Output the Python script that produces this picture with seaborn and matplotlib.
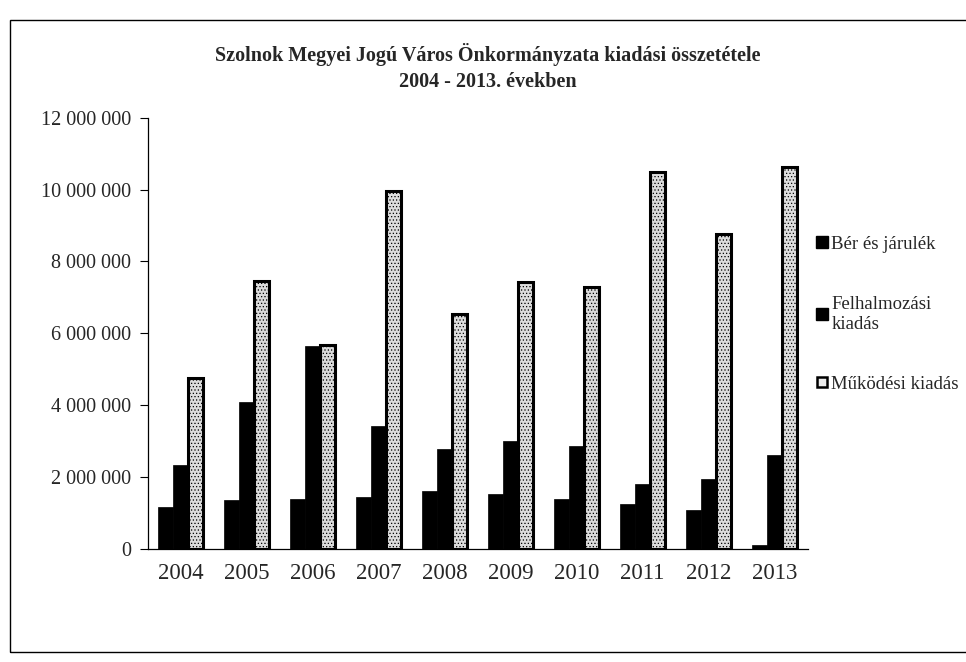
import numpy as np
import pandas as pd
import matplotlib
matplotlib.use('Agg')
import matplotlib.pyplot as plt
import seaborn as sns
from matplotlib.ticker import FuncFormatter
from matplotlib.lines import Line2D
from matplotlib.patches import Rectangle

# adatok, leolvasva a diagramról
years = ['2004', '2005', '2006', '2007', '2008', '2009', '2010', '2011', '2012', '2013']
ber = [1150000, 1370000, 1400000, 1450000, 1600000, 1530000, 1400000, 1250000, 1080000, 100000]
felh = [2320000, 4100000, 5640000, 3410000, 2770000, 3000000, 2850000, 1800000, 1930000, 2600000]
muk = [4750000, 7460000, 5670000, 9970000, 6540000, 7430000, 7300000, 10500000, 8770000, 10640000]
series = ['Bér és járulék', 'Felhalmozási kiadás', 'Működési kiadás']
legend_labels = ['Bér és járulék', 'Felhalmozási\nkiadás', 'Működési kiadás']

df = pd.DataFrame({
    'ev': years * 3,
    'sorozat': [series[0]] * 10 + [series[1]] * 10 + [series[2]] * 10,
    'ertek': ber + felh + muk,
})

sns.set_style('white')
plt.rcParams['font.family'] = ['Liberation Serif', 'DejaVu Serif']
plt.rcParams['hatch.linewidth'] = 0.5

fig = plt.figure(figsize=(9.66, 6.62), dpi=100)
ax = fig.add_axes([0.153, 0.171, 0.683, 0.651])

sns.barplot(data=df, x='ev', y='ertek', hue='sorozat', order=years, hue_order=series,
            palette=['black', 'black', '#dcdcdc'], width=0.68, saturation=1,
            errorbar=None, legend=False, ax=ax)

for i, cont in enumerate(ax.containers):
    for p in cont:
        if i == 2:
            p.set_facecolor('#dcdcdc')
            p.set_edgecolor('black')
            p.set_linewidth(2.2)
            p.set_hatch('.....')
        else:
            p.set_edgecolor('black')
            p.set_linewidth(0.5)

ax.set_ylim(0, 12000000)
ax.set_yticks(np.arange(0, 12000001, 2000000))
ax.yaxis.set_major_formatter(FuncFormatter(lambda v, pos: f"{int(v):,}".replace(',', ' ')))
ax.set_xlim(-0.5, 9.5)
ax.set_xticks(np.arange(-0.5, 10, 1), minor=True)
ax.tick_params(axis='x', which='major', length=0, pad=10, labelsize=16.5)
ax.tick_params(axis='x', which='minor', length=5, width=0.8, direction='out', color='black')
ax.tick_params(axis='y', length=6, width=0.8, direction='out', color='black', pad=6, labelsize=14.5,
               left=True)
ax.set_xlabel('')
ax.set_ylabel('')
for s in ['top', 'right']:
    ax.spines[s].set_visible(False)
for s in ['left', 'bottom']:
    ax.spines[s].set_color('black')
    ax.spines[s].set_linewidth(0.9)

fig.text(0.505, 0.918, 'Szolnok Megyei Jogú Város Önkormányzata kiadási összetétele',
         ha='center', va='center', fontsize=14.5, fontweight='bold')
fig.text(0.505, 0.876, '2004 - 2013. években', ha='center', va='center',
         fontsize=14.5, fontweight='bold')

handles = [
    Line2D([], [], marker='s', linestyle='none', markerfacecolor='black', markeredgecolor='black', markersize=8),
    Line2D([], [], marker='s', linestyle='none', markerfacecolor='black', markeredgecolor='black', markersize=8),
    Line2D([], [], marker='s', linestyle='none', markerfacecolor='#ececec', markeredgecolor='black',
           markeredgewidth=1.8, markersize=7),
]
fig.legend(handles, legend_labels, loc='center left', bbox_to_anchor=(0.842, 0.525), frameon=False,
           fontsize=13.5, handlelength=0.5, handletextpad=0.25, labelspacing=2.3, alignment='left',
           borderaxespad=0, borderpad=0.2)

fig.patches.append(Rectangle((10 / 966, 1 - 652 / 662), 1.0, (652 - 20) / 662,
                             transform=fig.transFigure, fill=False, edgecolor='black',
                             linewidth=1.0, clip_on=False))

fig.savefig('out.png', dpi=100)
